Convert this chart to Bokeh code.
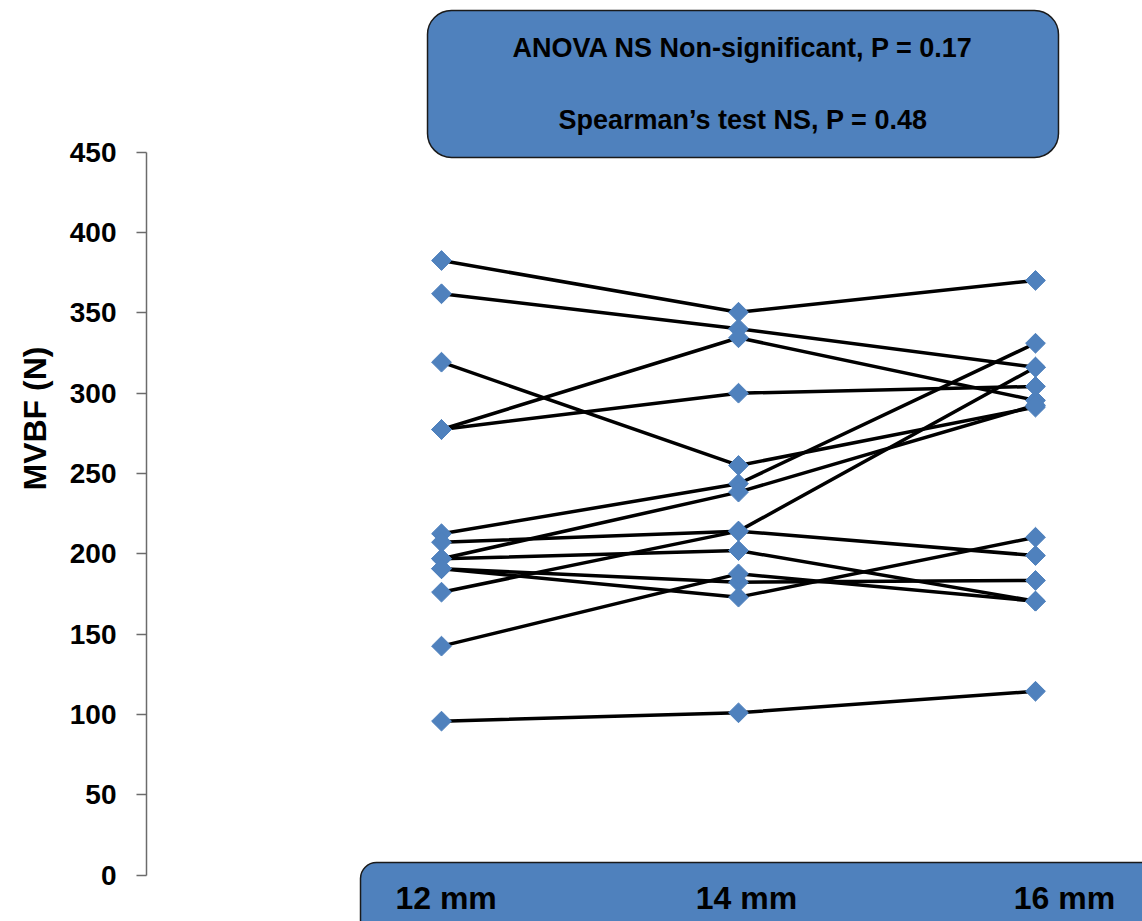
import numpy as np
from bokeh.plotting import figure
from bokeh.models import Range1d, FixedTicker, BoxAnnotation, Title
from bokeh.core.properties import value
from bokeh.embed import file_html
from bokeh.resources import INLINE

# ---- data ----
categories = ["12 mm", "14 mm", "16 mm"]
mvbf_12mm = [382.6, 361.9, 319.3, 277.4, 277.4, 212.5, 207.2, 196.9, 196.9, 190.7, 190.7, 176.1, 142.5, 95.8]
mvbf_14mm = [350.4, 340.1, 255.0, 334.5, 300.0, 243.6, 214.1, 238.4, 202.0, 182.3, 173.0, 214.1, 187.5, 101.0]
mvbf_16mm = [370.2, 316.2, 291.3, 295.5, 304.2, 331.1, 198.9, 292.5, 170.5, 183.4, 210.3, 316.2, 170.5, 114.4]
y_ticks = [0, 50, 100, 150, 200, 250, 300, 350, 400, 450]
annotation_lines = ["ANOVA NS Non-significant, P = 0.17", "Spearman\u2019s test NS, P = 0.48"]
y_label = "MVBF (N)"

FONT = value("Liberation Sans")
BLUE = "#4F81BD"

x_pos = list(range(len(categories)))

p = figure(width=1142, height=921, output_backend="svg", toolbar_location=None,
           x_range=Range1d(-0.9933, 2.3603), y_range=Range1d(-28.95, 544.5),
           x_axis_location=None, tools="")
p.min_border_left = 146
p.min_border_right = 0
p.min_border_top = 0
p.min_border_bottom = 0
p.outline_line_color = None
p.grid.visible = False
p.background_fill_color = "white"
p.border_fill_color = "white"

# y axis
ax = p.yaxis[0]
ax.bounds = (0, 450)
ax.ticker = FixedTicker(ticks=y_ticks)
ax.axis_line_color = "#6b6b6b"
ax.axis_line_width = 1.5
ax.major_tick_line_color = "#6b6b6b"
ax.major_tick_line_width = 1.5
ax.major_tick_out = 10
ax.major_tick_in = 0
ax.minor_tick_out = 0
ax.minor_tick_in = 0
ax.major_label_standoff = 20
ax.major_label_text_font = "Liberation Sans"
ax.major_label_text_font_style = "bold"
ax.major_label_text_font_size = "28px"
ax.major_label_text_color = "black"

# y axis title as a left-side title, shifted upward
p.add_layout(Title(text=y_label, align="left", offset=431, standoff=28,
                   text_font="Liberation Sans", text_font_style="bold",
                   text_font_size="32px", text_color="black"), "left")

# lines per subject
for a, b, c in zip(mvbf_12mm, mvbf_14mm, mvbf_16mm):
    p.line(x=x_pos, y=[a, b, c], line_color="black", line_width=3.5)

# markers
xs = []
ys = []
for i, series in enumerate([mvbf_12mm, mvbf_14mm, mvbf_16mm]):
    xs += [x_pos[i]] * len(series)
    ys += series
p.scatter(x=xs, y=ys, marker="square", angle=np.pi / 4, size=14,
          fill_color=BLUE, line_color=BLUE, line_width=1)

# annotation box at top
top_box = BoxAnnotation(left=-0.0471, right=2.0774, bottom=446.8, top=538.3,
                        fill_color=BLUE, fill_alpha=1.0, line_color="#1a1a1a",
                        line_width=1.5, line_alpha=1.0, border_radius=24, level="underlay")
p.add_layout(top_box)
p.text(x=[1.015, 1.015], y=[514.8, 470.1], text=annotation_lines,
       text_align="center", text_baseline="middle", text_font=FONT,
       text_font_style="bold", text_font_size="27px", text_color="black")

# category box at bottom
bot_box = BoxAnnotation(left=-0.2727, right=2.6, bottom=-60, top=7.8,
                        fill_color=BLUE, fill_alpha=1.0, line_color="#1a1a1a",
                        line_width=1.5, line_alpha=1.0, border_radius=16, level="underlay")
p.add_layout(bot_box)
label_offsets = [4.6, 8, 29]
p.text(x=x_pos, y=[-14.6] * 3, text=categories, x_offset=label_offsets,
       text_align="center", text_baseline="middle", text_font=FONT,
       text_font_style="bold", text_font_size="32px", text_color="black")

open("out.html", "w").write(file_html(p, INLINE))
